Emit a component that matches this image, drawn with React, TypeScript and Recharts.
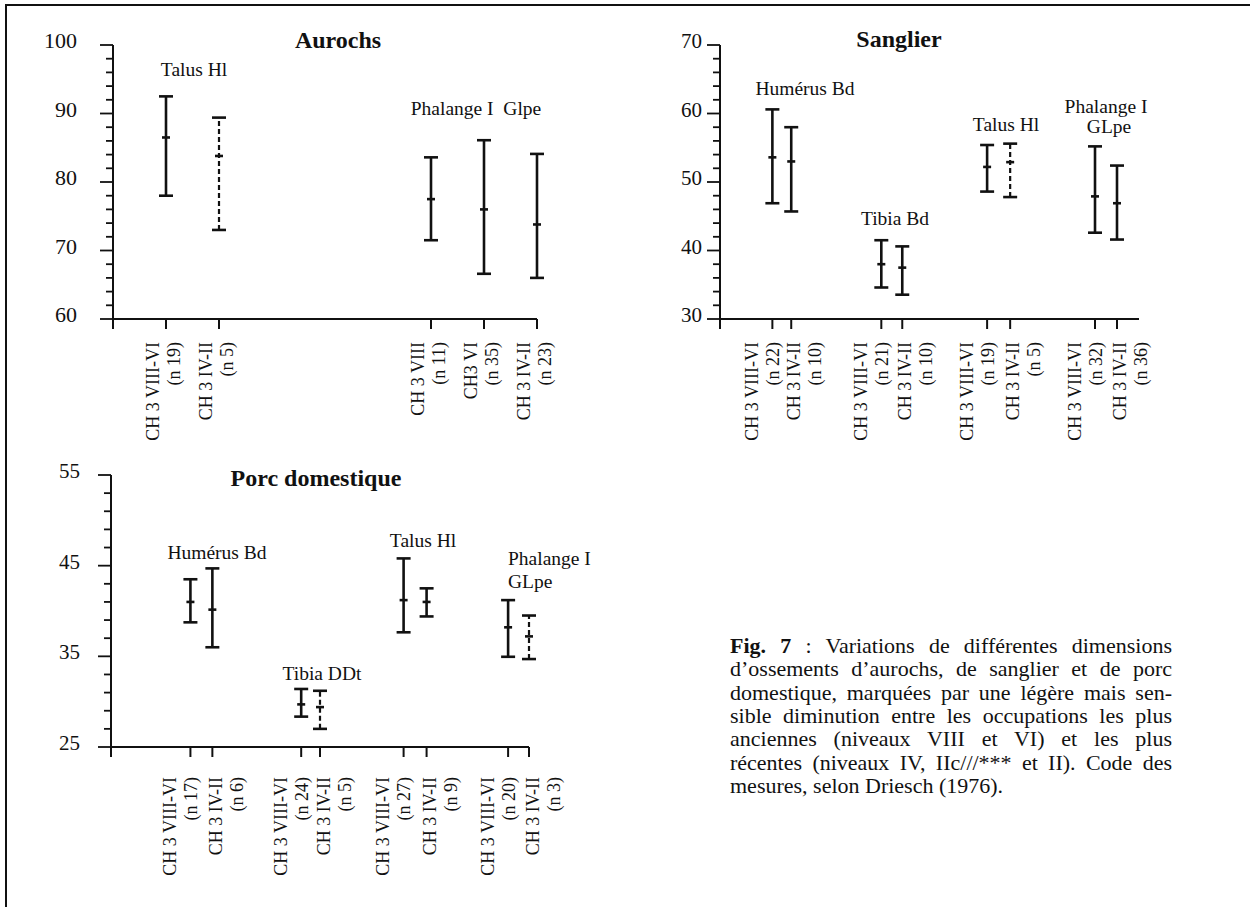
import React from 'react';
import { ScatterChart, Scatter, XAxis, YAxis } from 'recharts';

const FONT = '"Liberation Serif", "Times New Roman", serif';
const INK = '#111';

// Aurochs
const aurochsX = [1, 2, 6, 7, 8];
const aurochsCats = ['CH 3 VIII-VI', 'CH 3 IV-II', 'CH 3 VIII', 'CH3 VI', 'CH 3 IV-II'];
const aurochsN = ['(n 19)', '(n 5)', '(n 11)', '(n 35)', '(n 23)'];
const aurochsLow = [78, 73, 71.5, 66.6, 66];
const aurochsMean = [86.5, 83.8, 77.5, 76, 73.8];
const aurochsHigh = [92.5, 89.4, 83.6, 86.1, 84.1];
const aurochsDashed = [false, true, false, false, false];
const aurochsYTicks = [60, 62, 64, 66, 68, 70, 72, 74, 76, 78, 80, 82, 84, 86, 88, 90, 92, 94, 96, 98, 100];
const aurochsYMajor = [60, 70, 80, 90, 100];

// Sanglier
const sanglierX = [2.5, 3.4, 7.7, 8.7, 12.75, 13.85, 17.9, 18.95];
const sanglierCats = ['CH 3 VIII-VI', 'CH 3 IV-II', 'CH 3 VIII-VI', 'CH 3 IV-II', 'CH 3 VIII-VI', 'CH 3 IV-II', 'CH 3 VIII-VI', 'CH 3 IV-II'];
const sanglierN = ['(n 22)', '(n 10)', '(n 21)', '(n 10)', '(n 19)', '(n 5)', '(n 32)', '(n 36)'];
const sanglierLow = [46.9, 45.7, 34.6, 33.55, 48.6, 47.8, 42.6, 41.6];
const sanglierMean = [53.6, 53.0, 38.0, 37.5, 52.2, 52.9, 47.9, 46.9];
const sanglierHigh = [60.6, 58.0, 41.5, 40.6, 55.4, 55.6, 55.2, 52.4];
const sanglierDashed = [false, false, false, false, false, true, false, false];
const sanglierYTicks = [30, 32, 34, 36, 38, 40, 42, 44, 46, 48, 50, 52, 54, 56, 58, 60, 62, 64, 66, 68, 70];
const sanglierYMajor = [30, 40, 50, 60, 70];

// Porc domestique
const porcX = [3.8, 4.85, 9.1, 10, 14, 15.1, 19, 20];
const porcCats = ['CH 3 VIII-VI', 'CH 3 IV-II', 'CH 3 VIII-VI', 'CH 3 IV-II', 'CH 3 VIII-VI', 'CH 3 IV-II', 'CH 3 VIII-VI', 'CH 3 IV-II'];
const porcN = ['(n 17)', '(n 6)', '(n 24)', '(n 5)', '(n 27)', '(n 9)', '(n 20)', '(n 3)'];
const porcLow = [38.75, 36.0, 28.35, 27.0, 37.65, 39.4, 34.95, 34.7];
const porcMean = [41.0, 40.15, 29.7, 29.4, 41.2, 41.0, 38.2, 37.2];
const porcHigh = [43.5, 44.7, 31.4, 31.2, 45.8, 42.5, 41.2, 39.5];
const porcDashed = [false, false, false, true, false, false, false, true];
const porcYTicks = [25, 27, 29, 31, 33, 35, 37, 39, 41, 43, 45, 47, 49, 51, 53, 55];
const porcYMajor = [25, 35, 45, 55];

const captionLines = [
  ' : Variations de différentes dimensions',
  'd’ossements d’aurochs, de sanglier et de porc',
  'domestique, marquées par une légère mais sen-',
  'sible diminution entre les occupations les plus',
  'anciennes (niveaux VIII et VI) et les plus',
  'récentes (niveaux IV, IIc///*** et II). Code des',
  'mesures, selon Driesch (1976).',
];

type PanelProps = {
  x: number[];
  cats: string[];
  counts: string[];
  low: number[];
  mean: number[];
  high: number[];
  dashed: boolean[];
  xDomain: [number, number];
  yDomain: [number, number];
  yTicks: number[];
  yMajor: number[];
  left: number;
  top: number;
  width: number;
  height: number;
  margin: { top: number; left: number; right: number; bottom: number };
  yFont: number;
  yGap: number;
  labelTop: number;
  shift: (i: number) => number;
};

const barShape = (props: any) => {
  const { cx, cy, payload } = props;
  const w = payload.k === 'cap' ? 7 : 4;
  return <line x1={cx - w} x2={cx + w} y1={cy} y2={cy} stroke={INK} strokeWidth={2.6} />;
};

function Panel(p: PanelProps) {
  const series = p.x.map((xv, i) => [
    { x: xv, y: p.low[i], k: 'cap' },
    { x: xv, y: p.mean[i], k: 'mean' },
    { x: xv, y: p.high[i], k: 'cap' },
  ]);

  const xTick = (t: any) => {
    const { x, y, payload } = t;
    const i = p.x.indexOf(payload.value);
    const s = i >= 0 ? p.shift(i) : 0;
    return (
      <g>
        <line x1={x} x2={x} y1={y} y2={y + 10} stroke={INK} strokeWidth={2} />
        {i >= 0 && (
          <text
            transform={`translate(${x + s},${y + p.labelTop}) rotate(-90)`}
            textAnchor="end"
            fontFamily={FONT}
            fontSize={18}
            fill={INK}
          >
            <tspan x={0} y={-4.5}>{p.cats[i]}</tspan>
            <tspan x={0} y={16.5}>{p.counts[i]}</tspan>
          </text>
        )}
      </g>
    );
  };

  const yTick = (t: any) => {
    const { x, y, payload } = t;
    const major = p.yMajor.includes(payload.value);
    return (
      <g>
        <line x1={x - (major ? 13 : 7)} x2={x} y1={y} y2={y} stroke={INK} strokeWidth={1.8} />
        {major && (
          <text x={x - p.yGap} y={y + 3} textAnchor="end" fontFamily={FONT} fontSize={p.yFont} fill={INK}>
            {payload.value}
          </text>
        )}
      </g>
    );
  };

  return (
    <div style={{ position: 'absolute', left: p.left, top: p.top }}>
      <ScatterChart width={p.width} height={p.height} margin={p.margin}>
        <XAxis
          type="number"
          dataKey="x"
          domain={p.xDomain}
          ticks={[0, ...p.x]}
          interval={0}
          tickSize={0}
          tickMargin={0}
          tickLine={false}
          axisLine={{ stroke: INK, strokeWidth: 2 }}
          height={130}
          tick={xTick}
        />
        <YAxis
          type="number"
          dataKey="y"
          domain={p.yDomain}
          ticks={p.yTicks}
          interval={0}
          tickSize={0}
          tickMargin={0}
          tickLine={false}
          axisLine={{ stroke: INK, strokeWidth: 2 }}
          width={60}
          tick={yTick}
        />
        {series.map((d, i) => (
          <Scatter
            key={i}
            data={d}
            isAnimationActive={false}
            fill={INK}
            line={{
              stroke: INK,
              strokeWidth: p.dashed[i] ? 2.2 : 2.6,
              strokeDasharray: p.dashed[i] ? '5 3' : '0',
            }}
            shape={barShape}
          />
        ))}
      </ScatterChart>
    </div>
  );
}

function Txt(props: { x: number; base: number; size: number; bold?: boolean; left?: boolean; children: React.ReactNode }) {
  const { x, base, size, bold, left, children } = props;
  return (
    <div
      style={{
        position: 'absolute',
        left: x,
        top: base - 0.8375 * size,
        transform: left ? undefined : 'translateX(-50%)',
        fontFamily: FONT,
        fontSize: size,
        lineHeight: 1,
        fontWeight: bold ? 700 : 400,
        whiteSpace: 'pre',
        color: INK,
      }}
    >
      {children}
    </div>
  );
}

export default function App() {
  return (
    <div style={{ position: 'absolute', left: 0, top: 0, width: 1250, height: 907, background: '#fff', overflow: 'hidden' }}>
      <div style={{ position: 'absolute', left: 5, top: 4, width: 1260, height: 920, borderTop: `2px solid ${INK}`, borderLeft: `2px solid ${INK}` }} />

      <Panel
        x={aurochsX}
        cats={aurochsCats}
        counts={aurochsN}
        low={aurochsLow}
        mean={aurochsMean}
        high={aurochsHigh}
        dashed={aurochsDashed}
        xDomain={[0, 8]}
        yDomain={[60, 100]}
        yTicks={aurochsYTicks}
        yMajor={aurochsYMajor}
        left={0}
        top={0}
        width={620}
        height={460}
        margin={{ top: 45, left: 53, right: 83, bottom: 11 }}
        yFont={22}
        yGap={36}
        labelTop={23}
        shift={() => -3}
      />
      <Panel
        x={sanglierX}
        cats={sanglierCats}
        counts={sanglierN}
        low={sanglierLow}
        mean={sanglierMean}
        high={sanglierHigh}
        dashed={sanglierDashed}
        xDomain={[0, 20]}
        yDomain={[30, 70]}
        yTicks={sanglierYTicks}
        yMajor={sanglierYMajor}
        left={620}
        top={0}
        width={630}
        height={460}
        margin={{ top: 45, left: 40, right: 111, bottom: 11 }}
        yFont={21}
        yGap={18}
        labelTop={23}
        shift={(i) => (i % 2 === 0 ? -10 : 13)}
      />
      <Panel
        x={porcX}
        cats={porcCats}
        counts={porcN}
        low={porcLow}
        mean={porcMean}
        high={porcHigh}
        dashed={porcDashed}
        xDomain={[0, 20]}
        yDomain={[25, 55]}
        yTicks={porcYTicks}
        yMajor={porcYMajor}
        left={0}
        top={440}
        width={620}
        height={467}
        margin={{ top: 35, left: 51, right: 91, bottom: 30 }}
        yFont={21}
        yGap={31}
        labelTop={30}
        shift={(i) => (i % 2 === 0 ? -10 : 14)}
      />

      <Txt x={338} base={48} size={24} bold>Aurochs</Txt>
      <Txt x={194} base={76} size={19.5}>Talus Hl</Txt>
      <Txt x={476} base={115} size={19.5}>{'Phalange I  Glpe'}</Txt>

      <Txt x={899} base={47} size={24} bold>Sanglier</Txt>
      <Txt x={805} base={95} size={19.5}>Humérus Bd</Txt>
      <Txt x={895} base={225} size={19.5}>Tibia Bd</Txt>
      <Txt x={1006} base={131} size={19.5}>Talus Hl</Txt>
      <Txt x={1106} base={113} size={19.5}>Phalange I</Txt>
      <Txt x={1109} base={133} size={19.5}>GLpe</Txt>

      <Txt x={316} base={486} size={24} bold>Porc domestique</Txt>
      <Txt x={217} base={559} size={19.5}>Humérus Bd</Txt>
      <Txt x={322} base={680} size={19.5}>Tibia DDt</Txt>
      <Txt x={423} base={547} size={19.5}>Talus Hl</Txt>
      <Txt x={508} base={565} size={19.5} left>Phalange I</Txt>
      <Txt x={508} base={588} size={19.5} left>GLpe</Txt>

      <div style={{ position: 'absolute', left: 730, top: 634, width: 442, fontFamily: FONT, fontSize: 22, lineHeight: '23.33px', color: INK }}>
        {captionLines.map((line, i) => (
          <div
            key={i}
            style={{
              whiteSpace: 'nowrap',
              textAlign: 'justify',
              textAlignLast: i < captionLines.length - 1 ? 'justify' : 'left',
            }}
          >
            {i === 0 && <b>Fig. 7</b>}
            {line}
          </div>
        ))}
      </div>
    </div>
  );
}
